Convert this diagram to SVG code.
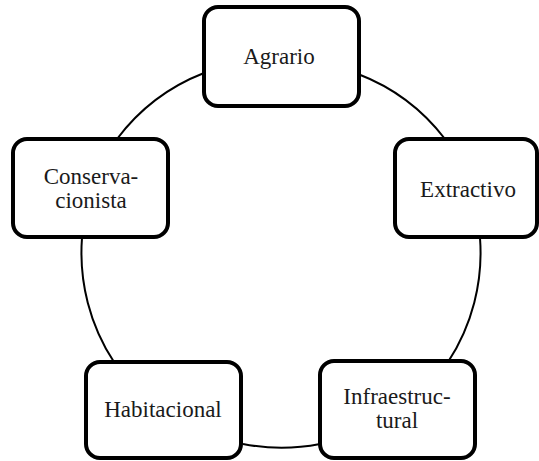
<svg xmlns="http://www.w3.org/2000/svg" width="539" height="461" viewBox="0 0 539 461">
<style>
.box{fill:#fff;stroke:#000;stroke-width:4}
.arc{fill:none;stroke:#000;stroke-width:2}
.t{font-family:"Liberation Serif","Times New Roman",serif;font-size:23px;fill:#1a1a1a;text-anchor:middle}
</style>
<rect width="539" height="461" fill="#fff"/>
<g id="connectors">
<path class="arc" d="M117,139 A199,199 0 0 1 204,73"/>
<path class="arc" d="M358,74 A199,199 0 0 1 445,139"/>
<path class="arc" d="M480,238 A199,199 0 0 1 448,362"/>
<path class="arc" d="M320,444 A199,199 0 0 1 243,444"/>
<path class="arc" d="M114,362 A199,199 0 0 1 82,238"/>
</g>
<g id="agrario">
<rect class="box" x="204" y="7" width="155" height="99" rx="14"/>
<text class="t" x="279" y="64">Agrario</text>
</g>
<g id="conservacionista">
<rect class="box" x="13" y="139" width="155" height="98" rx="14"/>
<text class="t" x="91" y="184">Conserva-</text>
<text class="t" x="91" y="208">cionista</text>
</g>
<g id="extractivo">
<rect class="box" x="395" y="139" width="142" height="98" rx="14"/>
<text class="t" x="468" y="197">Extractivo</text>
</g>
<g id="habitacional">
<rect class="box" x="86" y="362" width="155" height="96" rx="14"/>
<text class="t" x="163" y="417">Habitacional</text>
</g>
<g id="infraestructural">
<rect class="box" x="320" y="361" width="155" height="97" rx="14"/>
<text class="t" x="397" y="404">Infraestruc-</text>
<text class="t" x="397" y="428">tural</text>
</g>
</svg>
